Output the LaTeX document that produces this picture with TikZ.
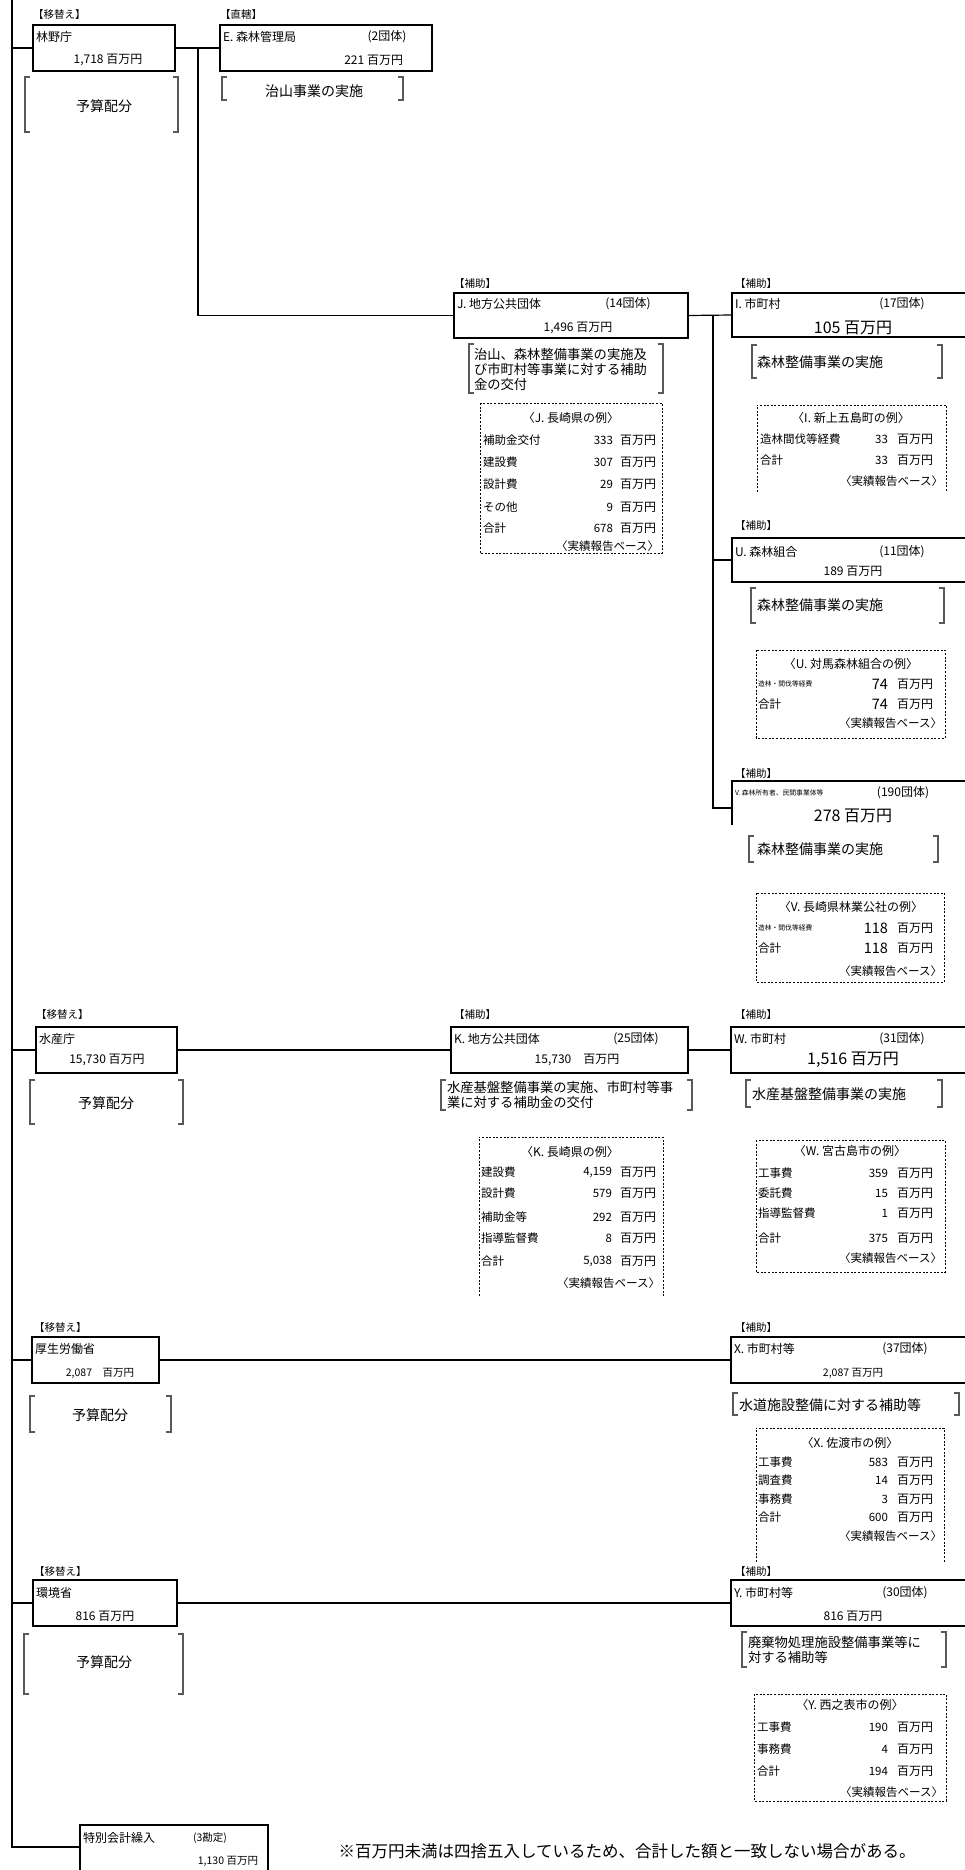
\documentclass[tikz,border=0pt]{standalone}
\usepackage{fontspec}
\setmainfont{Noto Sans CJK JP}
\newcommand\brkt[4]{%
  \draw[brk] (#1+5,#2) -- (#1,#2) -- (#1,#4) -- (#1+5,#4);
  \draw[brk] (#3-5,#2) -- (#3,#2) -- (#3,#4) -- (#3-5,#4);}
\begin{document}
\begin{tikzpicture}[x=1pt,y=-1pt,
  every node/.style={inner sep=0pt, outer sep=0pt},
  obox/.style={draw, line width=1.3pt, anchor=north west},
  tag/.style={anchor=west, font=\fontsize{10.5}{12}\selectfont},
  txt/.style={anchor=west, font=\fontsize{12}{14}\selectfont},
  amt/.style={font=\fontsize{12}{14}\selectfont},
  bigamt/.style={font=\fontsize{16}{18}\selectfont},
  brk/.style={line width=1.3pt, black!65},
  btxt/.style={font=\fontsize{14}{15}\selectfont},
  btxtm/.style={anchor=west, align=left, font=\fontsize{13.3}{15}\selectfont},
  dsh/.style={line width=0.9pt, dash pattern=on 2pt off 1.6pt},
  conn/.style={line width=1.2pt},
  tt/.style={font=\fontsize{12}{14}\selectfont},
  tl/.style={anchor=west, font=\fontsize{11.5}{13}\selectfont},
  tiny/.style={anchor=west, font=\fontsize{6.8}{8}\selectfont},
  tv/.style={anchor=east, font=\fontsize{11.5}{13}\selectfont},
  tvb/.style={anchor=east, font=\fontsize{14.5}{16}\selectfont},
  tu/.style={anchor=west, font=\fontsize{12}{13}\selectfont},
  ft/.style={anchor=east, font=\fontsize{11.5}{13}\selectfont},
]
\useasboundingbox (0,0) rectangle (965,1870);

% ---------------- main spine
\coordinate (vtop) at (12,0);
\coordinate (vbot) at (12,1847);

% ---------------- 林野庁
\node[tag] (tagrin) at (33,15) {【移替え】};
\node[obox, minimum width=142pt, minimum height=46pt] (rin) at (33,25) {};
\node[txt] (rinname) at (36,37) {林野庁};
\node[amt] (rinamt) at (108,60) {1,718 百万円};
\brkt{25}{77}{178}{132}
\node[btxt] (rinbt) at (104,106) {予算配分};

% ---------------- E
\node[tag] (tage) at (220,15) {【直轄】};
\node[obox, minimum width=212pt, minimum height=46pt] (e) at (220,25) {};
\node[txt] (ename) at (223,37) {E. 森林管理局};
\node[amt] (ecnt) at (387,37) {(2団体)};
\node[amt, anchor=east] (eamt) at (403,60) {221 百万円};
\brkt{222}{77}{403}{100}
\node[btxt] (ebt) at (314,91) {治山事業の実施};

% ---------------- J
\node[tag] (tagj) at (454,284) {【補助】};
\node[obox, minimum width=234pt, minimum height=45pt] (j) at (454,293) {};
\node[txt] (jname) at (457,304) {J. 地方公共団体};
\node[amt] (jcnt) at (628,304) {(14団体)};
\node[amt] (jamt) at (578,328) {1,496 百万円};
\brkt{469}{344}{663}{393}
\node[btxtm] (jbt) at (474,369) {治山、森林整備事業の実施及\\び市町村等事業に対する補助\\金の交付};
\draw[dsh] (480,403) rectangle (662,553);
\node[tt] (jtt) at (571,418) {〈J. 長崎県の例〉};
\node[tl] (j1l) at (483,440) {補助金交付}; \node[tv] (j1v) at (613,440) {333}; \node[tu] (j1u) at (620,440) {百万円};
\node[tl] (j2l) at (483,462) {建設費};     \node[tv] (j2v) at (613,462) {307}; \node[tu] (j2u) at (620,462) {百万円};
\node[tl] (j3l) at (483,484) {設計費};     \node[tv] (j3v) at (613,484) {29};  \node[tu] (j3u) at (620,484) {百万円};
\node[tl] (j4l) at (483,507) {その他};     \node[tv] (j4v) at (613,507) {9};   \node[tu] (j4u) at (620,507) {百万円};
\node[tl] (j5l) at (483,528) {合計};       \node[tv] (j5v) at (613,528) {678}; \node[tu] (j5u) at (620,528) {百万円};
\node[ft] (jft) at (659,546) {〈実績報告ベース〉};

% ---------------- I
\node[tag] (tagi) at (735,284) {【補助】};
\node[obox, minimum width=240pt, minimum height=44pt] (i) at (732,293) {};
\node[txt] (iname) at (735,304) {I. 市町村};
\node[amt] (icnt) at (902,304) {(17団体)};
\node[bigamt] (iamt) at (853,328) {105 百万円};
\brkt{752}{345}{942}{378}
\node[btxt, anchor=west] (ibt) at (757,362) {森林整備事業の実施};
\draw[dsh] (757,492) -- (757,405) -- (946,405) -- (946,492);
\node[tt] (itt) at (851,418) {〈I. 新上五島町の例〉};
\node[tl] (i1l) at (760,439) {造林間伐等経費}; \node[tv] (i1v) at (888,439) {33}; \node[tu] (i1u) at (897,439) {百万円};
\node[tl] (i2l) at (760,460) {合計};           \node[tv] (i2v) at (888,460) {33}; \node[tu] (i2u) at (897,460) {百万円};
\node[ft] (ift) at (943,481) {〈実績報告ベース〉};

% ---------------- U
\node[tag] (tagu) at (735,526) {【補助】};
\node[obox, minimum width=240pt, minimum height=44pt] (u) at (732,538) {};
\node[txt] (uname) at (735,552) {U. 森林組合};
\node[amt] (ucnt) at (902,552) {(11団体)};
\node[amt] (uamt) at (853,571) {189 百万円};
\brkt{751}{588}{944}{623}
\node[btxt, anchor=west] (ubt) at (757,605) {森林整備事業の実施};
\draw[dsh] (756,650) rectangle (945,738);
\node[tt] (utt) at (851,664) {〈U. 対馬森林組合の例〉};
\node[tiny] (u1l) at (758,684) {造林・間伐等経費}; \node[tvb] (u1v) at (888,684) {74}; \node[tu] (u1u) at (897,684) {百万円};
\node[tl] (u2l) at (758,704) {合計};             \node[tvb] (u2v) at (888,704) {74}; \node[tu] (u2u) at (897,704) {百万円};
\node[ft] (uft) at (942,723) {〈実績報告ベース〉};

% ---------------- V
\node[tag] (tagv) at (735,774) {【補助】};
\node[anchor=north west, minimum width=240pt, minimum height=54pt] (v) at (732,781) {};
\draw[line width=1.3pt] (v.north east) -- (v.north west) -- (732,825);
\node[tiny] (vname) at (735,793) {V. 森林所有者、民間事業体等};
\node[amt] (vcnt) at (903,793) {(190団体)};
\node[bigamt] (vamt) at (853,816) {278 百万円};
\brkt{749}{836}{938}{862}
\node[btxt, anchor=west] (vbt) at (757,849) {森林整備事業の実施};
\draw[dsh] (756,893) rectangle (944,982);
\node[tt] (vtt) at (851,907) {〈V. 長崎県林業公社の例〉};
\node[tiny] (v1l) at (758,928) {造林・間伐等経費}; \node[tvb] (v1v) at (888,928) {118}; \node[tu] (v1u) at (897,928) {百万円};
\node[tl] (v2l) at (758,948) {合計};             \node[tvb] (v2v) at (888,948) {118}; \node[tu] (v2u) at (897,948) {百万円};
\node[ft] (vft) at (942,971) {〈実績報告ベース〉};

% ---------------- 水産庁
\node[tag] (tagsui) at (36,1014) {【移替え】};
\node[obox, minimum width=141pt, minimum height=46pt] (sui) at (36,1027) {};
\node[txt] (suiname) at (39,1039) {水産庁};
\node[amt] (suiamt) at (107,1060) {15,730 百万円};
\brkt{30}{1080}{183}{1124}
\node[btxt] (suibt) at (106,1103) {予算配分};

% ---------------- K
\node[tag] (tagk) at (454,1014) {【補助】};
\node[obox, minimum width=237pt, minimum height=46pt] (k) at (451,1027) {};
\node[txt] (kname) at (454,1039) {K. 地方公共団体};
\node[amt] (kcnt) at (636,1039) {(25団体)};
\node[amt] (kamt) at (577,1060) {15,730\quad 百万円};
\brkt{441}{1080}{692}{1110}
\node[btxtm] (kbt) at (447,1095) {水産基盤整備事業の実施、市町村等事\\業に対する補助金の交付};
\draw[dsh] (479,1296) -- (479,1137) -- (663,1137) -- (663,1296);
\node[tt] (ktt) at (570,1152) {〈K. 長崎県の例〉};
\node[tl] (k1l) at (481,1172) {建設費};     \node[tv] (k1v) at (612,1172) {4,159}; \node[tu] (k1u) at (620,1172) {百万円};
\node[tl] (k2l) at (481,1193) {設計費};     \node[tv] (k2v) at (612,1193) {579};   \node[tu] (k2u) at (620,1193) {百万円};
\node[tl] (k3l) at (481,1217) {補助金等};   \node[tv] (k3v) at (612,1217) {292};   \node[tu] (k3u) at (620,1217) {百万円};
\node[tl] (k4l) at (481,1238) {指導監督費}; \node[tv] (k4v) at (612,1238) {8};     \node[tu] (k4u) at (620,1238) {百万円};
\node[tl] (k5l) at (481,1261) {合計};       \node[tv] (k5v) at (612,1261) {5,038}; \node[tu] (k5u) at (620,1261) {百万円};
\node[ft] (kft) at (660,1283) {〈実績報告ベース〉};

% ---------------- W
\node[tag] (tagw) at (735,1014) {【補助】};
\node[obox, minimum width=240pt, minimum height=46pt] (w) at (731,1027) {};
\node[txt] (wname) at (734,1039) {W. 市町村};
\node[amt] (wcnt) at (902,1039) {(31団体)};
\node[bigamt] (wamt) at (853,1060) {1,516 百万円};
\brkt{746}{1080}{942}{1107}
\node[btxt, anchor=west] (wbt) at (752,1094) {水産基盤整備事業の実施};
\draw[dsh] (756,1140) rectangle (945,1272);
\node[tt] (wtt) at (850,1151) {〈W. 宮古島市の例〉};
\node[tl] (w1l) at (758,1173) {工事費};     \node[tv] (w1v) at (888,1173) {359}; \node[tu] (w1u) at (897,1173) {百万円};
\node[tl] (w2l) at (758,1193) {委託費};     \node[tv] (w2v) at (888,1193) {15};  \node[tu] (w2u) at (897,1193) {百万円};
\node[tl] (w3l) at (758,1213) {指導監督費}; \node[tv] (w3v) at (888,1213) {1};   \node[tu] (w3u) at (897,1213) {百万円};
\node[tl] (w4l) at (758,1238) {合計};       \node[tv] (w4v) at (888,1238) {375}; \node[tu] (w4u) at (897,1238) {百万円};
\node[ft] (wft) at (942,1258) {〈実績報告ベース〉};

% ---------------- 厚生労働省
\node[tag] (tagkou) at (34,1327) {【移替え】};
\node[obox, minimum width=127pt, minimum height=46pt] (kou) at (32,1337) {};
\node[txt] (kouname) at (35,1349) {厚生労働省};
\node[amt, font=\fontsize{10.5}{12}\selectfont] (kouamt) at (100,1373) {2,087\quad 百万円};
\brkt{30}{1396}{171}{1432}
\node[btxt] (koubt) at (100,1415) {予算配分};

% ---------------- X
\node[tag] (tagx) at (735,1327) {【補助】};
\node[obox, minimum width=240pt, minimum height=46pt] (x) at (731,1337) {};
\node[txt] (xname) at (734,1349) {X. 市町村等};
\node[amt] (xcnt) at (905,1349) {(37団体)};
\node[amt, font=\fontsize{10.5}{12}\selectfont] (xamt) at (853,1373) {2,087 百万円};
\brkt{733}{1393}{959}{1415}
\node[btxt, anchor=west] (xbt) at (739,1405) {水道施設整備に対する補助等};
\draw[dsh] (756,1562) -- (756,1428) -- (944,1428) -- (944,1562);
\node[tt] (xtt) at (850,1443) {〈X. 佐渡市の例〉};
\node[tl] (x1l) at (758,1462) {工事費}; \node[tv] (x1v) at (888,1462) {583}; \node[tu] (x1u) at (897,1462) {百万円};
\node[tl] (x2l) at (758,1480) {調査費}; \node[tv] (x2v) at (888,1480) {14};  \node[tu] (x2u) at (897,1480) {百万円};
\node[tl] (x3l) at (758,1499) {事務費}; \node[tv] (x3v) at (888,1499) {3};   \node[tu] (x3u) at (897,1499) {百万円};
\node[tl] (x4l) at (758,1517) {合計};   \node[tv] (x4v) at (888,1517) {600}; \node[tu] (x4u) at (897,1517) {百万円};
\node[ft] (xft) at (942,1536) {〈実績報告ベース〉};

% ---------------- 環境省
\node[tag] (tagkan) at (34,1571) {【移替え】};
\node[obox, minimum width=144pt, minimum height=46pt] (kan) at (33,1580) {};
\node[txt] (kanname) at (36,1593) {環境省};
\node[amt] (kanamt) at (105,1616) {816 百万円};
\brkt{24}{1634}{183}{1694}
\node[btxt] (kanbt) at (104,1662) {予算配分};

% ---------------- Y
\node[tag] (tagy) at (735,1571) {【補助】};
\node[obox, minimum width=240pt, minimum height=46pt] (y) at (731,1580) {};
\node[txt] (yname) at (734,1593) {Y. 市町村等};
\node[amt] (ycnt) at (905,1593) {(30団体)};
\node[amt] (yamt) at (853,1616) {816 百万円};
\brkt{742}{1632}{946}{1667}
\node[btxtm] (ybt) at (748,1650) {廃棄物処理施設整備事業等に\\対する補助等};
\draw[dsh] (754,1694) rectangle (946,1801);
\node[tt] (ytt) at (850,1705) {〈Y. 西之表市の例〉};
\node[tl] (y1l) at (757,1727) {工事費}; \node[tv] (y1v) at (888,1727) {190}; \node[tu] (y1u) at (897,1727) {百万円};
\node[tl] (y2l) at (757,1749) {事務費}; \node[tv] (y2v) at (888,1749) {4};   \node[tu] (y2u) at (897,1749) {百万円};
\node[tl] (y3l) at (757,1771) {合計};   \node[tv] (y3v) at (888,1771) {194}; \node[tu] (y3u) at (897,1771) {百万円};
\node[ft] (yft) at (943,1792) {〈実績報告ベース〉};

% ---------------- 特別会計繰入
\node[obox, minimum width=188pt, minimum height=52pt] (tok) at (80,1825) {};
\node[txt] (tokname) at (83,1838) {特別会計繰入};
\node[amt, font=\fontsize{10.5}{12}\selectfont] (tokcnt) at (210,1838) {(3勘定)};
\node[amt, font=\fontsize{10.5}{12}\selectfont, anchor=east] (tokamt) at (258,1861) {1,130 百万円};
\node[font=\fontsize{16.5}{18}\selectfont] (note) at (627,1851) {※百万円未満は四捨五入しているため、合計した額と一致しない場合がある。};

% ---------------- connectors
\draw[conn] (vtop) -- (vbot) -- (vbot -| tok.west);
\draw[conn] (vtop |- rin.west) -- (rin.west);
\draw[conn] (rin.east) -- (e.west);
\coordinate (br1) at (198,48);
\draw[conn] (br1) |- (j.west);
\draw[conn] (j.east) -- (i.west);
\coordinate (br2) at (713,315);
\coordinate (vin) at (732,808);
\draw[conn] (br2) |- (u.west);
\draw[conn] (br2) |- (vin);
\draw[conn] (vtop |- sui.west) -- (sui.west);
\draw[conn] (sui.east) -- (k.west);
\draw[conn] (k.east) -- (w.west);
\draw[conn] (vtop |- kou.west) -- (kou.west);
\draw[conn] (kou.east) -- (x.west);
\draw[line width=2.5pt] (vtop |- kan.west) -- (kan.west);
\draw[line width=2.5pt] (kan.east) -- (y.west);
\end{tikzpicture}
\end{document}
